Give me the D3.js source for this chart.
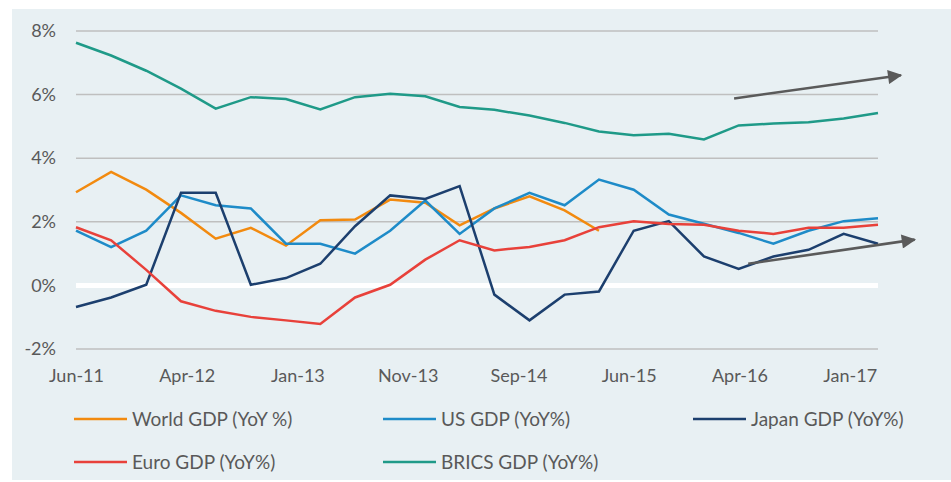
<!doctype html>
<html lang="en">
<head>
<meta charset="utf-8">
<script src="https://d3js.org/d3.v7.min.js"></script>
<style>
  body { margin: 0; background: #fff; }
  svg text { font-family: Lato, "Open Sans", sans-serif; fill: #595959; }
</style>
</head>
<body>
<div id="chart"></div>
<script>
// quarterly observations, Jun-11 .. Mar-17
var quarters = ["2011-06-30","2011-09-30","2011-12-31","2012-03-31","2012-06-30","2012-09-30",
  "2012-12-31","2013-03-31","2013-06-30","2013-09-30","2013-12-31","2014-03-31",
  "2014-06-30","2014-09-30","2014-12-31","2015-03-31","2015-06-30","2015-09-30",
  "2015-12-31","2016-03-31","2016-06-30","2016-09-30","2016-12-31","2017-03-31"];

var worldGdp = [2.93, 3.57, 3.01, 2.28, 1.47, 1.81, 1.25, 2.05, 2.07, 2.70, 2.60, 1.89,
  2.42, 2.80, 2.36, 1.72];
var usGdp = [1.72, 1.20, 1.72, 2.83, 2.52, 2.42, 1.31, 1.31, 1.00, 1.72, 2.67, 1.62,
  2.42, 2.91, 2.52, 3.33, 3.01, 2.23, 1.94, 1.65, 1.31, 1.72, 2.02, 2.11];
var japanGdp = [-0.68, -0.38, 0.02, 2.91, 2.91, 0.02, 0.23, 0.68, 1.86, 2.83, 2.72, 3.12,
  -0.29, -1.10, -0.29, -0.19, 1.72, 2.02, 0.91, 0.52, 0.91, 1.12, 1.62, 1.31];
var euroGdp = [1.83, 1.42, 0.49, -0.50, -0.80, -0.99, -1.10, -1.21, -0.38, 0.02, 0.81, 1.42,
  1.10, 1.21, 1.42, 1.83, 2.02, 1.93, 1.91, 1.72, 1.62, 1.81, 1.81, 1.91];
var bricsGdp = [7.63, 7.23, 6.75, 6.19, 5.56, 5.92, 5.86, 5.53, 5.92, 6.03, 5.95, 5.61,
  5.52, 5.34, 5.11, 4.84, 4.72, 4.77, 4.59, 5.03, 5.09, 5.13, 5.25, 5.42];

var seriesNames = ["World GDP (YoY %)", "US GDP (YoY%)", "Japan GDP (YoY%)", "Euro GDP (YoY%)", "BRICS GDP (YoY%)"];
var seriesColors = ["#f28a0f", "#1e8bc8", "#1c3f6e", "#e8413a", "#1f9a88"];

var tickDates = ["2011-06-30","2012-04-15","2013-01-30","2013-11-15","2014-09-01","2015-06-17","2016-04-02","2017-01-16"];
var yTicks = [-2, 0, 2, 4, 6, 8];

// trend arrows: [start date, start value, end date, end value]
var trendArrows = [
  ["2016-03-19", 5.88, "2017-05-30", 6.61],
  ["2016-04-25", 0.68, "2017-07-05", 1.44]
];

var W = 951, H = 482;
var plotLeft = 76, plotRight = 878, plotTop = 31, plotBottom = 349;
var parse = d3.timeParse("%Y-%m-%d");

var svg = d3.select("#chart").append("svg")
  .attr("width", W).attr("height", H);

svg.append("rect")
  .attr("x", 12).attr("y", 9).attr("width", W - 12).attr("height", 471)
  .attr("fill", "#e8f0f3");

var x = d3.scaleTime()
  .domain([parse(quarters[0]), parse(quarters[quarters.length - 1])])
  .range([plotLeft, plotRight]);
var y = d3.scaleLinear().domain([-2, 8]).range([plotBottom, plotTop]);

// gridlines
svg.append("g").selectAll("line")
  .data(yTicks)
  .enter().append("line")
    .attr("x1", plotLeft).attr("x2", plotRight)
    .attr("y1", function(d) { return y(d); })
    .attr("y2", function(d) { return y(d); })
    .attr("stroke", function(d) { return d === 0 ? "#ffffff" : "#bfbfbf"; })
    .attr("stroke-width", function(d) { return d === 0 ? 5 : 1.5; });

// y axis labels
var yAxis = svg.append("g")
  .attr("transform", "translate(" + (plotLeft - 20) + ",0)")
  .call(d3.axisLeft(y).tickValues(yTicks).tickSize(0).tickFormat(function(d) { return d + "%"; }));
yAxis.select(".domain").remove();
yAxis.selectAll("text").attr("font-size", 18).attr("fill", "#595959").attr("x", 0);

// x axis labels
var xAxis = svg.append("g")
  .attr("transform", "translate(0," + (plotBottom + 17) + ")")
  .call(d3.axisBottom(x).tickValues(tickDates.map(parse)).tickSize(0).tickFormat(d3.timeFormat("%b-%y")));
xAxis.select(".domain").remove();
xAxis.selectAll("text").attr("font-size", 18).attr("fill", "#595959");

// lines
var allSeries = [worldGdp, usGdp, japanGdp, euroGdp, bricsGdp];
var line = d3.line()
  .x(function(d, i) { return x(parse(quarters[i])); })
  .y(function(d) { return y(d); });

svg.append("g").selectAll("path")
  .data(allSeries)
  .enter().append("path")
    .attr("d", line)
    .attr("fill", "none")
    .attr("stroke", function(d, i) { return seriesColors[i]; })
    .attr("stroke-width", 2.5)
    .attr("stroke-linejoin", "miter");

// arrows
svg.append("defs").append("marker")
  .attr("id", "arrowhead")
  .attr("viewBox", "0 0 10 10")
  .attr("refX", 9).attr("refY", 5)
  .attr("markerWidth", 6).attr("markerHeight", 5.5)
  .attr("markerUnits", "strokeWidth")
  .attr("orient", "auto")
  .append("path").attr("d", "M0,0L10,5L0,10Z").attr("fill", "#5a5a5a");

svg.append("g").selectAll("line")
  .data(trendArrows)
  .enter().append("line")
    .attr("x1", function(d) { return x(parse(d[0])); })
    .attr("y1", function(d) { return y(d[1]); })
    .attr("x2", function(d) { return x(parse(d[2])); })
    .attr("y2", function(d) { return y(d[3]); })
    .attr("stroke", "#5a5a5a")
    .attr("stroke-width", 2.6)
    .attr("marker-end", "url(#arrowhead)");

// legend
var legendPos = [[74, 419], [383, 419], [693, 419], [74, 462], [383, 462]];
var legend = svg.append("g").selectAll("g")
  .data(seriesNames)
  .enter().append("g")
    .attr("transform", function(d, i) { return "translate(" + legendPos[i][0] + "," + legendPos[i][1] + ")"; });
legend.append("line")
  .attr("x1", 0).attr("x2", 53).attr("y1", 0).attr("y2", 0)
  .attr("stroke", function(d, i) { return seriesColors[i]; })
  .attr("stroke-width", 2.5);
legend.append("text")
  .attr("x", 58).attr("y", 0).attr("dy", "0.35em")
  .attr("font-size", 19)
  .text(function(d) { return d; });
</script>
</body>
</html>
